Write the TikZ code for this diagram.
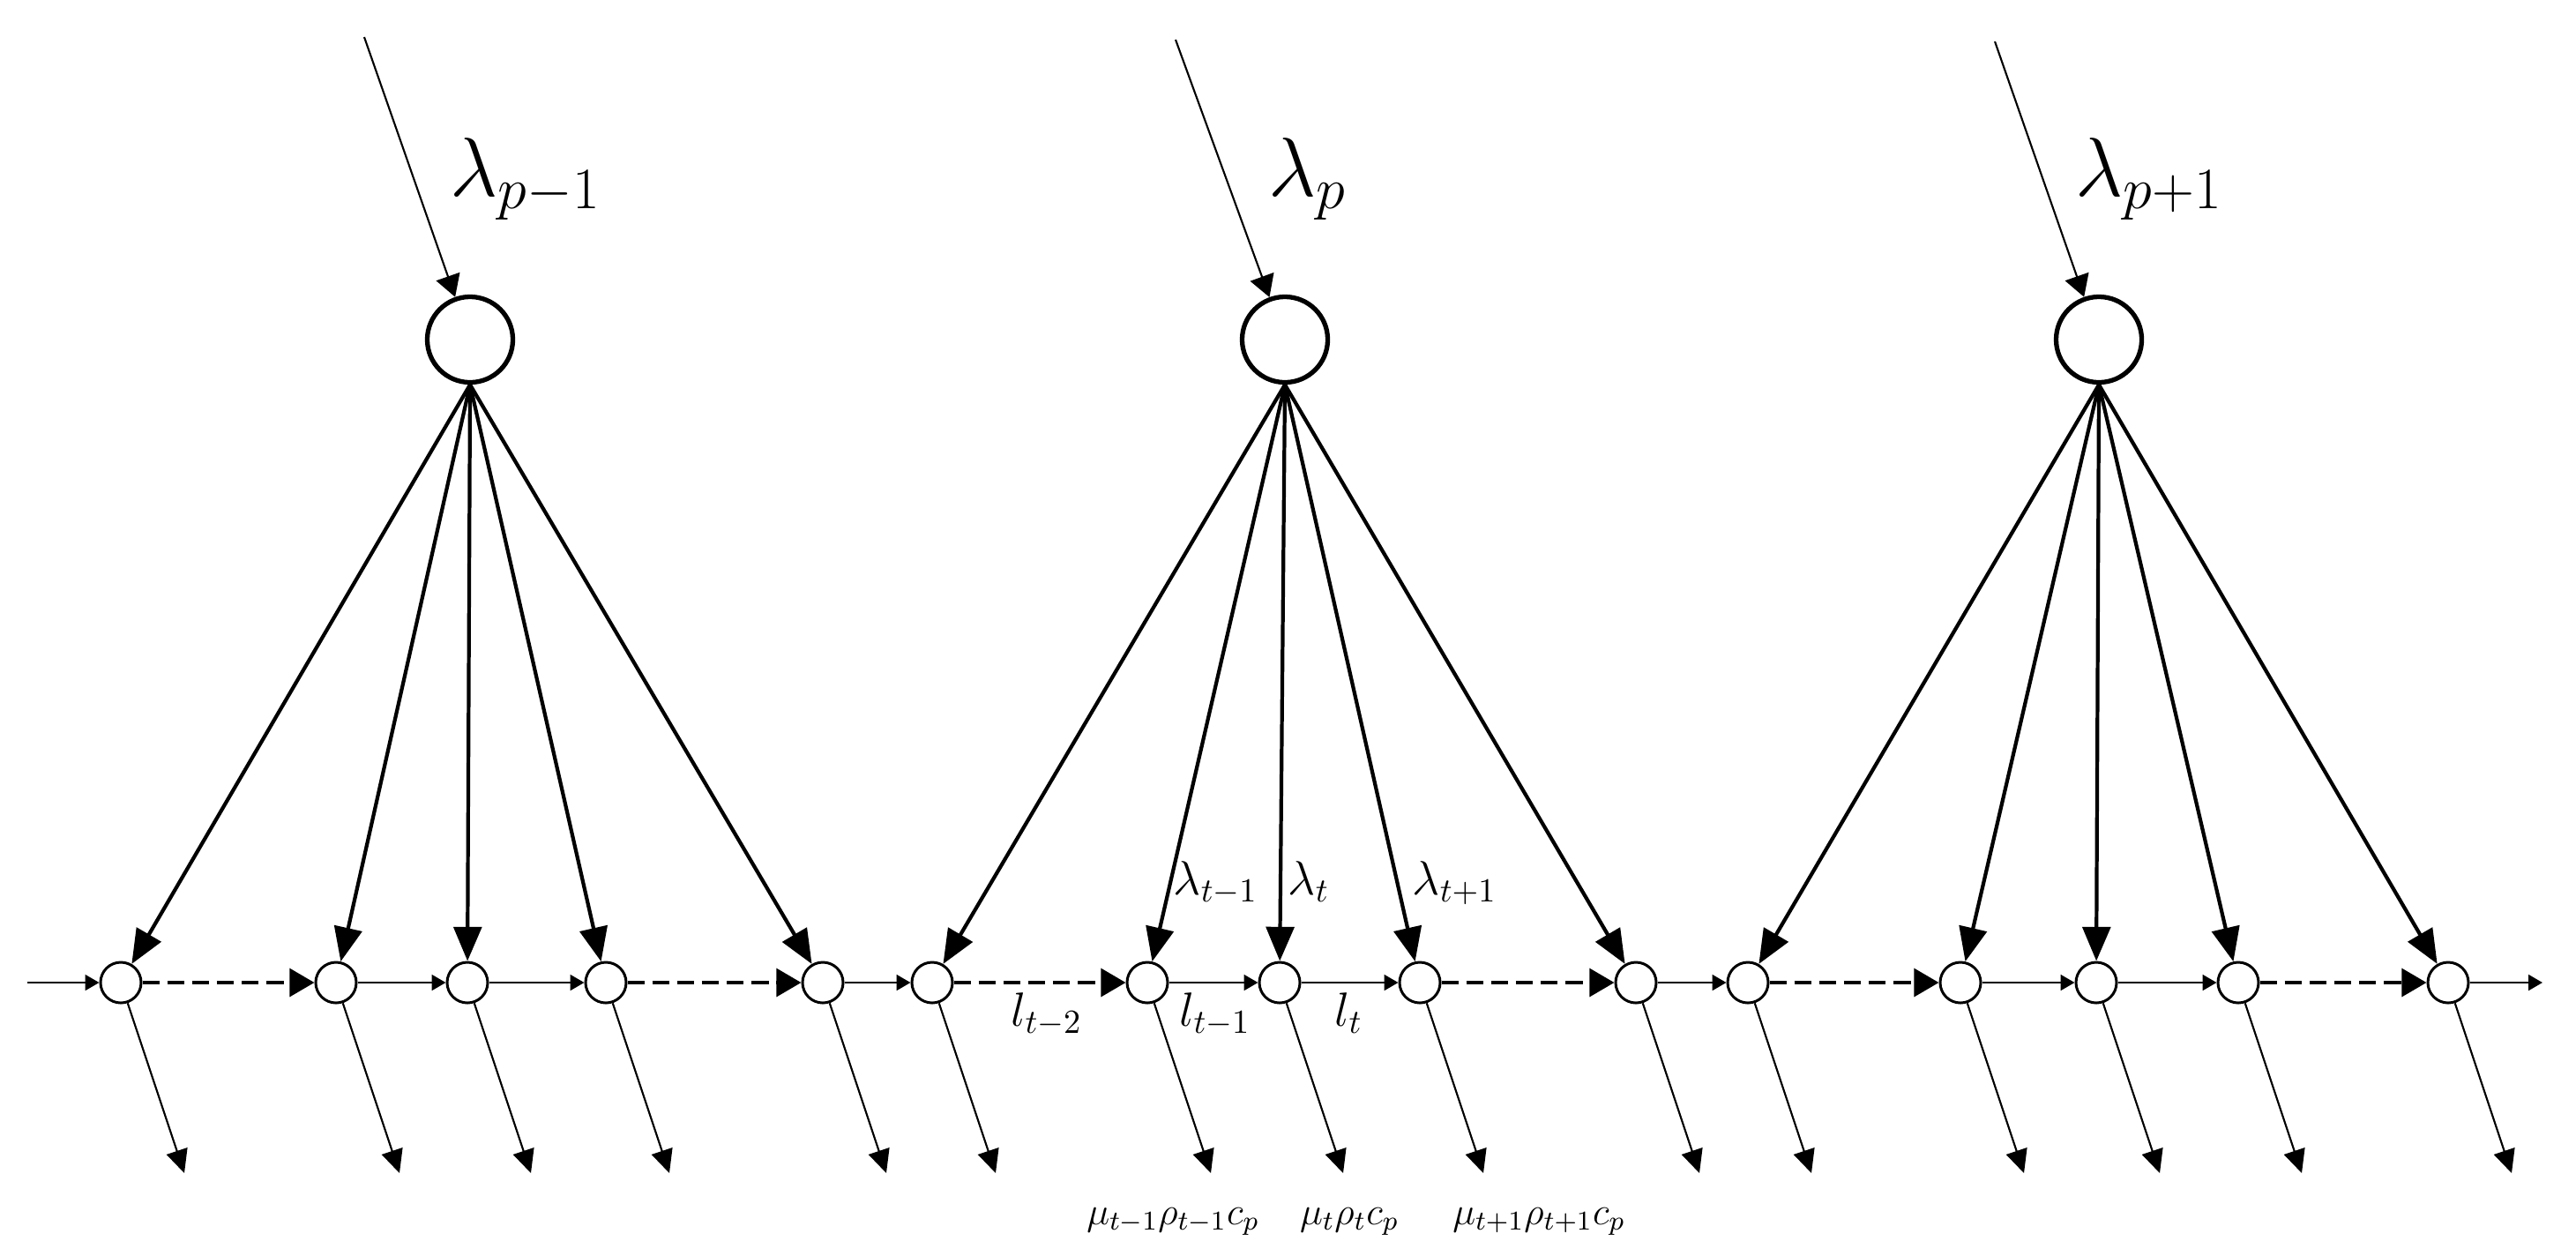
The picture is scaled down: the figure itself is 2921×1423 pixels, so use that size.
\RequirePackage{fix-cm}
\documentclass[tikz,border=0pt]{standalone}
\usetikzlibrary{arrows.meta,calc}
\begin{document}
\begin{tikzpicture}[x=0.01cm,y=-0.01cm,
  bigc/.style={circle,draw,line width=1.5pt,minimum size=0.97cm,inner sep=0pt},
  smallc/.style={circle,draw,line width=0.85pt,minimum size=0.46cm,inner sep=0pt,fill=white},
  fan/.style={line width=1.2pt,-{Triangle[length=11pt,width=9pt]}},
  inarr/.style={line width=0.6pt,-{Triangle[length=7pt,width=8pt]}},
  dasharr/.style={line width=1.2pt,dash pattern=on 5.5pt off 2.5pt,-{Triangle[length=8pt,width=9pt]}},
  solidarr/.style={line width=0.75pt,-{Triangle[length=4.5pt,width=5pt]}},
  outarr/.style={line width=0.6pt,-{Triangle[length=7.5pt,width=7pt]}},
  biglab/.style={anchor=base west,inner sep=0pt,font=\fontsize{27}{32}\selectfont},
  midlab/.style={anchor=base west,inner sep=0pt,font=\fontsize{15.5}{18}\selectfont},
  mulab/.style={anchor=base,inner sep=0pt,font=\fontsize{12.5}{15}\selectfont}]
\useasboundingbox (0,0) rectangle (2921,1423);

% top circles
\node[bigc] (T1) at (533,385) {};
\node[bigc] (T2) at (1457,385) {};
\node[bigc] (T3) at (2380,385) {};
\coordinate (S1) at (413,42);
\coordinate (S2) at (1333,45);
\coordinate (S3) at (2262,47);
\draw[inarr] (S1) -- (T1);
\draw[inarr] (S2) -- (T2);
\draw[inarr] (S3) -- (T3);
\node[biglab] (L1) at (510,222) {$\lambda_{p-1}$};
\node[biglab] (L2) at (1438,222) {$\lambda_{p}$};
\node[biglab] (L3) at (2353,222) {$\lambda_{p+1}$};

% bottom row nodes
\foreach \nm/\xx in {n11/137,n12/381,n13/530,n14/687,n15/933,
                     n21/1057,n22/1301,n23/1451,n24/1610,n25/1855,
                     n31/1982,n32/2223,n33/2377,n34/2538,n35/2776}
  \node[smallc] (\nm) at (\xx,1114) {};

% fan arrows
\foreach \g in {1,2,3}
  \foreach \k in {1,...,5}
    \draw[fan] (T\g.south) -- (n\g\k);

% horizontal chain
\coordinate (inL) at (31,1114);
\coordinate (outR) at (2883,1114);
\draw[solidarr] (inL) -- (n11);
\foreach \g in {1,2,3}{
  \draw[dasharr] (n\g1) -- (n\g2);
  \draw[solidarr] (n\g2) -- (n\g3);
  \draw[solidarr] (n\g3) -- (n\g4);
  \draw[dasharr] (n\g4) -- (n\g5);
}
\draw[solidarr] (n15) -- (n21);
\draw[solidarr] (n25) -- (n31);
\draw[solidarr] (n35) -- (outR);

% output arrows
\foreach \g in {1,2,3}
  \foreach \k in {1,...,5}{
    \coordinate (o\g\k) at ($(n\g\k)+(72,216)$);
    \draw[outarr] (n\g\k) -- (o\g\k);
  }

% labels of the middle group
\node[midlab] (la1) at (1330,1014) {$\lambda_{t-1}$};
\node[midlab] (la2) at (1460,1014) {$\lambda_{t}$};
\node[midlab] (la3) at (1601,1014) {$\lambda_{t+1}$};
\node[midlab] (l1) at (1146,1163) {$l_{t-2}$};
\node[midlab] (l2) at (1337,1163) {$l_{t-1}$};
\node[midlab] (l3) at (1513,1163) {$l_{t}$};
\node[mulab] (m1) at (1330,1388) {$\mu_{t-1}\rho_{t-1}c_p$};
\node[mulab] (m2) at (1530,1388) {$\mu_{t}\rho_{t}c_p$};
\node[mulab] (m3) at (1745,1388) {$\mu_{t+1}\rho_{t+1}c_p$};
\end{tikzpicture}
\end{document}
